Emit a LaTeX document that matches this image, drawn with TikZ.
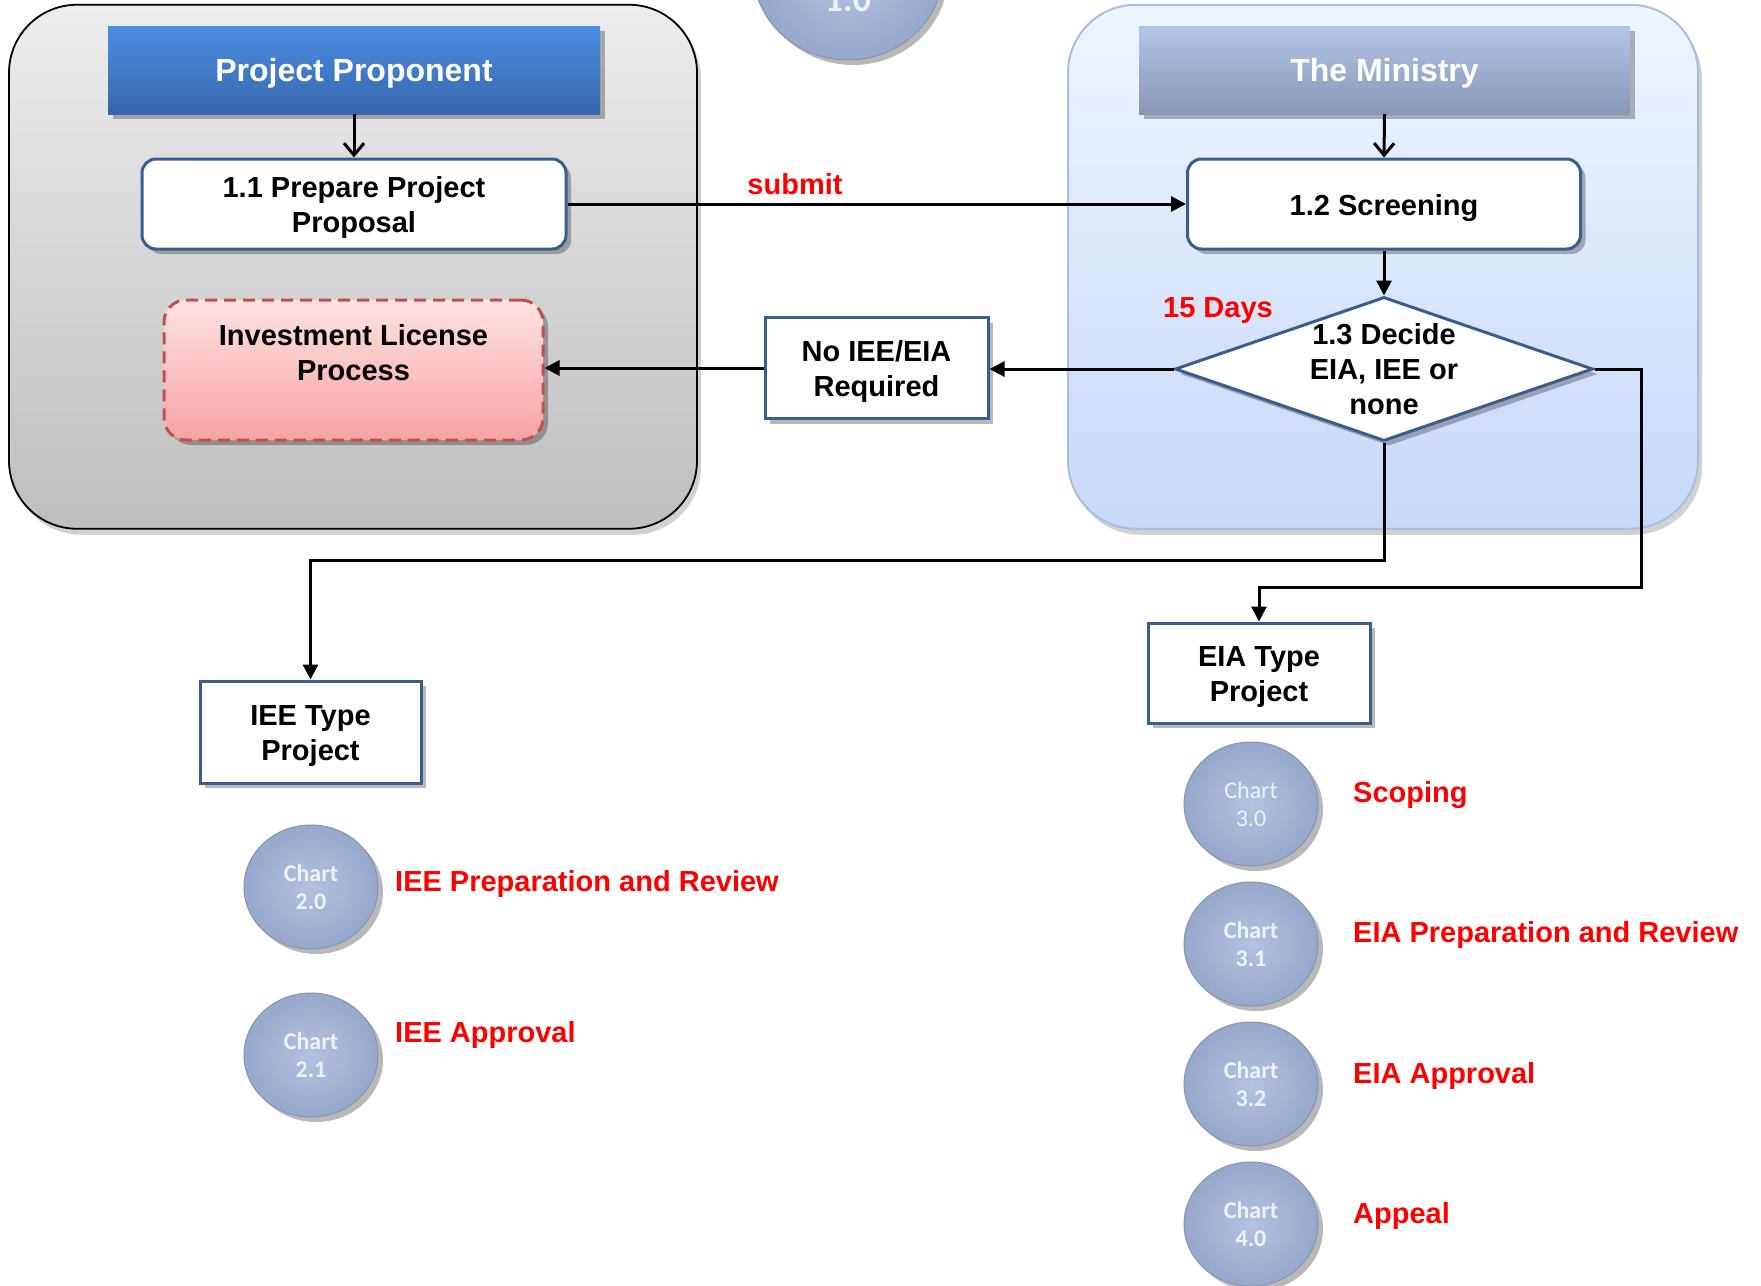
\documentclass[tikz,border=0pt]{standalone}
\usepackage{fontspec}
\setmainfont{Liberation Sans}
\newfontfamily\chartfont{Carlito}
\usetikzlibrary{arrows.meta,shapes.geometric,shadows}
\definecolor{boxblue}{HTML}{3B5D8D}
\definecolor{grayT}{HTML}{EDEDED}
\definecolor{grayB}{HTML}{BEBEBE}
\definecolor{blueT}{HTML}{EFF5FE}
\definecolor{blueB}{HTML}{C7D9F8}
\definecolor{blueEdge}{HTML}{A9BEE0}
\definecolor{ppT}{HTML}{4B8FE2}
\definecolor{ppB}{HTML}{3866AC}
\definecolor{mnT}{HTML}{B3C6E8}
\definecolor{mnB}{HTML}{8697B6}
\definecolor{invT}{HTML}{FDE3E3}
\definecolor{invB}{HTML}{F8A2A2}
\definecolor{invEdge}{HTML}{C0504D}
\definecolor{chartIn}{HTML}{B2C2E0}
\definecolor{chartOut}{HTML}{96A8CB}
\definecolor{chartEdge}{HTML}{8594B3}
\definecolor{chartTxt}{HTML}{EEF2F9}
\definecolor{pureRed}{HTML}{FF0000}
\newcommand\boxstrut{\rule[-0.212em]{0pt}{1.2em}}
\newcommand\lblstrut{\rule[-0.212em]{0pt}{1.117em}}
\begin{document}
\begin{tikzpicture}[x=1pt,y=-1pt,
  conn/.style={line width=3pt,draw=black},
  farrow/.style={conn,-{Triangle[length=15pt,width=15pt]}},
  varrow/.style={conn,-{Straight Barb[length=12pt,width=20pt]}},
  shd/.style={drop shadow={shadow xshift=5pt,shadow yshift=-5pt,opacity=0.28,fill=black}},
  lshd/.style={drop shadow={shadow xshift=4pt,shadow yshift=-6pt,opacity=0.18,fill=black}},
  panelbox/.style={rectangle,rounded corners=68pt,inner sep=0pt,minimum height=524pt,lshd},
  hdrbox/.style={rectangle,inner sep=0pt,minimum height=88pt,text=white,
    font=\fontsize{32}{38}\selectfont\bfseries,shd,
    execute at begin node=\lblstrut,execute at end node=\lblstrut},
  txt/.style={font=\fontsize{29}{35}\selectfont\bfseries,align=center},
  procbox/.style={txt,rectangle,rounded corners=14pt,draw=boxblue,line width=3pt,fill=white,
    inner sep=0pt,minimum height=90pt,shd},
  sqbox/.style={txt,rectangle,draw=boxblue,line width=3pt,fill=white,inner sep=0pt,shd},
  redlbl/.style={font=\fontsize{29}{35}\selectfont\bfseries,text=pureRed,inner sep=0pt,
    execute at begin node=\lblstrut},
  chartball/.style={ellipse,minimum width=134pt,minimum height=124pt,inner sep=0pt,
    inner color=chartIn,outer color=chartOut,draw=chartEdge,line width=1pt,
    text=chartTxt,align=center,shd}
]
\useasboundingbox (0,0) rectangle (1761,1285);

% top circle (cut off at the top edge)
\node[chartball,minimum width=190pt,minimum height=180pt] (c10) at (848,-30) {};
\node[font=\chartfont\fontsize{36}{40}\selectfont\bfseries,text=chartTxt,anchor=base,inner sep=0pt] (c10t) at (848,11) {1.0};

% panels
\node[panelbox,minimum width=688pt,draw=black,line width=1.8pt,top color=grayT,bottom color=grayB] (lp) at (353,266.75) {};
\node[panelbox,minimum width=630pt,draw=blueEdge,line width=2pt,top color=blueT,bottom color=blueB] (rp) at (1383,266.75) {};

% headers
\node[hdrbox,minimum width=492pt,top color=ppT,bottom color=ppB] (pph) at (354,70) {Project Proponent};
\node[hdrbox,minimum width=491pt,top color=mnT,bottom color=mnB] (mnh) at (1384.5,70) {The Ministry};

% process boxes
\node[procbox,minimum width=424pt] (prep) at (354,204) {\boxstrut 1.1 Prepare Project\\Proposal};
\node[procbox,minimum width=393pt] (scr) at (1384,204) {\boxstrut 1.2 Screening};

\node[rectangle,rounded corners=22pt,minimum width=379pt,minimum height=140pt,inner sep=0pt,
  top color=invT,bottom color=invB,draw=invEdge,line width=3pt,dash pattern=on 12pt off 7pt,shd] (inv) at (353.5,370) {};
\node[txt,inner sep=0pt] (invt) at (353.5,353) {Investment License\\Process};

\node[diamond,draw=boxblue,line width=3pt,fill=white,minimum width=418pt,minimum height=144pt,inner sep=0pt,shd] (dec) at (1384,369) {};
\node[txt,inner sep=0pt] (dect) at (1384,369) {1.3 Decide\\EIA, IEE or\\none};

\node[sqbox,minimum width=223pt,minimum height=101pt] (noiee) at (876.5,368) {\boxstrut No IEE/EIA\\Required};
\node[sqbox,minimum width=221pt,minimum height=102pt] (iee) at (310.5,732) {\boxstrut IEE Type\\Project};
\node[sqbox,minimum width=222pt,minimum height=100pt] (eia) at (1259,673) {\boxstrut EIA Type\\Project};

% connectors
\draw[varrow] (pph.south) -- (prep.north);
\draw[varrow] (mnh.south) -- (scr.north);
\draw[farrow] (prep.east) -- (scr.west);
\draw[farrow] (scr.south) -- (dec.north);
\draw[farrow] (dec.west) -- (dec.west -| noiee.east);
\draw[farrow] (noiee.west) -- (noiee.west -| inv.east);
\coordinate (j1) at (1384,560);
\coordinate (j2) at (1641,587);
\draw[farrow] (dec.south) -- (j1) -| (iee.north);
\draw[farrow] (dec.east) -| (j2) -| (eia.north);

% red labels
\node[redlbl,anchor=base] (sub) at (795,194) {submit};
\node[redlbl] (days) at (1218,307) {15 Days};

% chart balls
\node[chartball,font=\chartfont\fontsize{24}{28}\selectfont\bfseries] (c20) at (311,887) {Chart\\2.0};
\node[chartball,font=\chartfont\fontsize{24}{28}\selectfont\bfseries] (c21) at (311,1055) {Chart\\2.1};
\node[chartball,font=\chartfont\fontsize{24}{28}\selectfont] (c30) at (1251,804) {Chart\\3.0};
\node[chartball,font=\chartfont\fontsize{24}{28}\selectfont\bfseries] (c31) at (1251,944) {Chart\\3.1};
\node[chartball,font=\chartfont\fontsize{24}{28}\selectfont\bfseries] (c32) at (1251,1084) {Chart\\3.2};
\node[chartball,font=\chartfont\fontsize{24}{28}\selectfont\bfseries] (c40) at (1251,1224) {Chart\\4.0};

\node[redlbl,anchor=west] (l20) at (395,881) {IEE Preparation and Review};
\node[redlbl,anchor=west] (l21) at (395,1032) {IEE Approval};
\node[redlbl,anchor=west] (l30) at (1353,792) {Scoping};
\node[redlbl,anchor=west] (l31) at (1353,932) {EIA Preparation and Review};
\node[redlbl,anchor=west] (l32) at (1353,1073) {EIA Approval};
\node[redlbl,anchor=west] (l40) at (1353,1213) {Appeal};
\end{tikzpicture}
\end{document}
